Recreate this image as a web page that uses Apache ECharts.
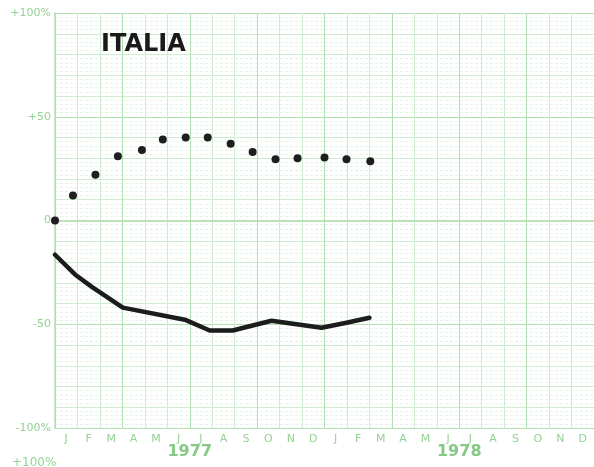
<!DOCTYPE html>
<html>
<head>
<meta charset="utf-8">
<script src="https://cdn.jsdelivr.net/npm/echarts@6/dist/echarts.min.js"></script>
<style>
html,body{margin:0;padding:0;background:#fff;}
#c{width:594px;height:467px;}
</style>
</head>
<body>
<div id="c"></div>
<script>
// ---- data ----
var title = 'ITALIA';
var monthLabels = ['J','F','M','A','M','J','J','A','S','O','N','D','J','F','M','A','M','J','J','A','S','O','N','D'];
var yearLabels = ['1977','1978'];
var yTickValues = [100, 50, 0, -50, -100];
var yTickTexts = ['+100%', '+50', '0', '-50', '-100%'];
// dotted series: month position (0 = start of Jan 1977), percent
var dotMonths = [0, 0.8, 1.8, 2.8, 3.87, 4.8, 5.82, 6.8, 7.82, 8.8, 9.82, 10.8, 12.0, 12.98, 14.04];
var dotValues = [0, 12, 22, 31, 34, 39, 40, 40, 37, 33, 29.5, 30, 30.4, 29.5, 28.5];
// solid line series
var lineMonths = [0, 0.89, 1.64, 3.02, 5.78, 6.89, 7.91, 9.64, 11.87, 12.98, 14.0];
var lineValues = [-16.5, -26, -32, -42, -47.8, -53, -53, -48.3, -51.7, -49.3, -46.9];
var bottomNextLabel = '+100%';

var green = '#94d294';
var gridStrong = '#b3e0b3';
var gridLight = '#cfecd2';
var gridMinor = '#e4f4e6';

function pairs(xs, ys){ return xs.map(function(x,i){ return [x, ys[i]]; }); }

var chart = echarts.init(document.getElementById('c'), null, {renderer:'canvas'});
chart.setOption({
  backgroundColor: '#ffffff',
  animation: false,
  grid: { left: 55, top: 13, width: 540, height: 415, containLabel: false },
  xAxis: [
    {
      type: 'value', min: 0, max: 24, interval: 1,
      axisLine: { show: true, lineStyle: { color: gridStrong, width: 1.5 } },
      axisTick: { show: false },
      axisLabel: { show: false },
      splitLine: { show: true, lineStyle: { color: [gridStrong, gridLight, gridLight], width: 1 } }
    },
    {
      type: 'category', data: monthLabels, boundaryGap: true, position: 'bottom',
      axisLine: { show: false }, axisTick: { show: false }, splitLine: { show: false },
      axisLabel: { color: green, fontSize: 11, fontFamily: 'DejaVu Sans', margin: 6, interval: 0 }
    },
    {
      type: 'category', data: yearLabels, boundaryGap: true, position: 'bottom',
      axisLine: { show: false }, axisTick: { show: false }, splitLine: { show: false },
      axisLabel: { color: '#86c986', fontSize: 16, fontWeight: 'bold', fontFamily: 'DejaVu Sans', margin: 16, interval: 0 }
    }
  ],
  yAxis: {
    type: 'value', min: -100, max: 100, interval: 10,
    axisLine: { show: true, lineStyle: { color: gridStrong, width: 1.5 } },
    axisTick: { show: false },
    minorTick: { show: false, splitNumber: 5 },
    minorSplitLine: { show: true, lineStyle: { color: gridMinor, width: 1, type: [3, 2] } },
    splitLine: { show: true, lineStyle: { color: [gridStrong, gridLight, gridLight, gridLight, gridLight], width: 1 } },
    axisLabel: {
      color: green, fontSize: 11, fontFamily: 'DejaVu Sans', margin: 4,
      padding: [0, 0, 8, 0],
      formatter: function(v){
        var i = yTickValues.indexOf(v);
        return i >= 0 ? yTickTexts[i] : '';
      }
    }
  },
  graphic: [
    { type: 'text', z: 100, left: 101, top: 33, style: { text: title, font: 'bold 24px "DejaVu Sans"', fill: '#1a1a1a' } },
    { type: 'text', z: 100, left: 12, top: 457, style: { text: bottomNextLabel, font: '12px "DejaVu Sans"', fill: green } }
  ],
  series: [
    {
      type: 'line', xAxisIndex: 0, data: pairs(lineMonths, lineValues),
      showSymbol: false, smooth: false, z: 5,
      lineStyle: { color: '#1c1c1c', width: 4.5, cap: 'round', join: 'round', opacity: 1 }
    },
    {
      type: 'scatter', xAxisIndex: 0, data: pairs(dotMonths, dotValues),
      symbol: 'circle', symbolSize: 8, z: 6,
      itemStyle: { color: '#1e1e1e', opacity: 1 }
    }
  ]
});
</script>
</body>
</html>
